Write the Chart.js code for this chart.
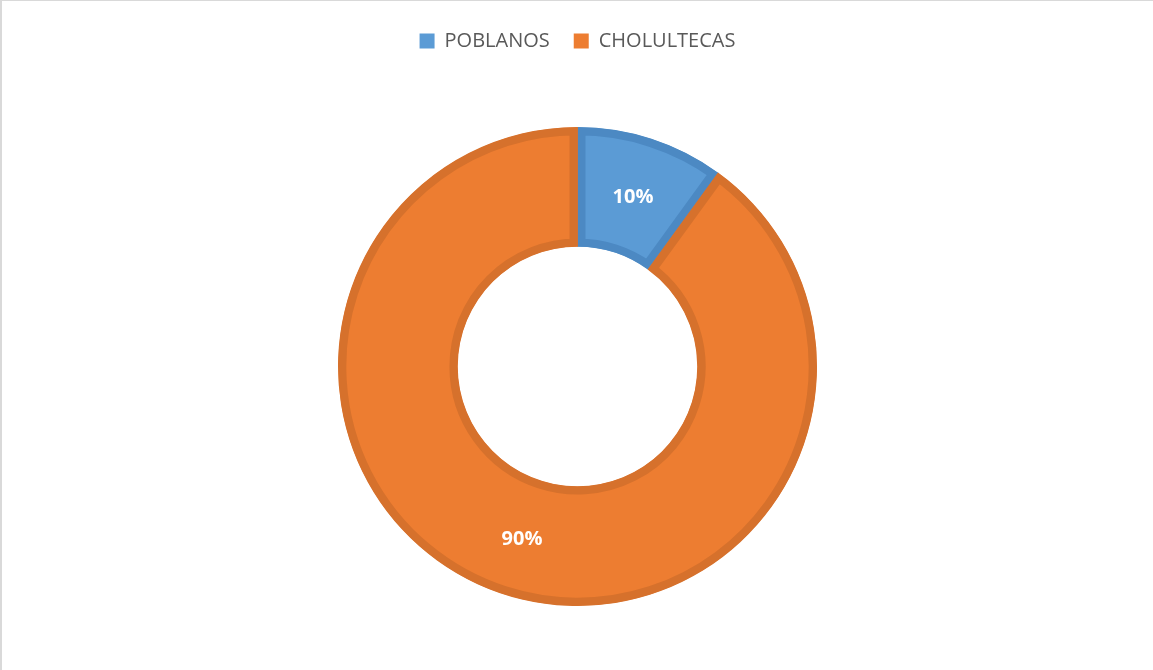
<!DOCTYPE html>
<html>
<head>
<meta charset="utf-8">
<script src="https://cdn.jsdelivr.net/npm/chart.js@4.4.0/dist/chart.umd.min.js"></script>
<style>
  html, body { margin: 0; padding: 0; background: #fff; }
  #wrap { width: 1151px; height: 669px; border-left: 2px solid #d9d9d9; border-top: 1px solid #d9d9d9; }
</style>
</head>
<body>
<div id="wrap"><canvas id="donutChart" width="1151" height="669"></canvas></div>
<script>
// datos del grafico
var categorias = ['POBLANOS', 'CHOLULTECAS'];
var valores = [10, 90];
var etiquetas = ['10%', '90%'];

var rellenos = ['#5B9BD5', '#ED7D31'];
var bordes = ['#4C89C3', '#D6712C'];

// dibuja los porcentajes en cada sector
var etiquetasPlugin = {
    id: 'etiquetasPlugin',
    afterDatasetsDraw: function (chart) {
        var ctx = chart.ctx;
        var meta = chart.getDatasetMeta(0);
        ctx.save();
        ctx.fillStyle = '#ffffff';
        ctx.font = 'bold 20px "Open Sans"';
        ctx.textAlign = 'center';
        ctx.textBaseline = 'middle';
        meta.data.forEach(function (arc, i) {
            var pos = arc.tooltipPosition();
            ctx.fillText(etiquetas[i], pos.x, pos.y + 2);
        });
        ctx.restore();
    }
};

// mas espacio debajo de la leyenda
var leyendaAlto = {
    id: 'leyendaAlto',
    beforeInit: function (chart) {
        var fitOriginal = chart.legend.fit;
        chart.legend.fit = function () {
            fitOriginal.bind(chart.legend)();
            this.height = 120;
        };
    }
};

var ctx = document.getElementById('donutChart').getContext('2d');
var myChart = new Chart(ctx, {
    type: 'doughnut',
    data: {
        labels: categorias,
        datasets: [{
            data: valores,
            backgroundColor: rellenos,
            borderColor: bordes,
            borderWidth: 8,
            borderAlign: 'inner'
        }]
    },
    options: {
        responsive: false,
        animation: false,
        cutout: '50%',
        layout: { padding: { top: 6, bottom: 64 } },
        plugins: {
            tooltip: { enabled: false },
            legend: {
                position: 'top',
                labels: {
                    boxWidth: 15,
                    boxHeight: 15,
                    padding: 24,
                    color: '#595959',
                    font: { family: 'Open Sans', size: 20 },
                    generateLabels: function (chart) {
                        return categorias.map(function (nombre, i) {
                            return {
                                text: nombre,
                                fillStyle: rellenos[i],
                                strokeStyle: rellenos[i],
                                lineWidth: 0,
                                fontColor: '#595959',
                                index: i
                            };
                        });
                    }
                }
            }
        }
    },
    plugins: [etiquetasPlugin, leyendaAlto]
});
</script>
</body>
</html>
